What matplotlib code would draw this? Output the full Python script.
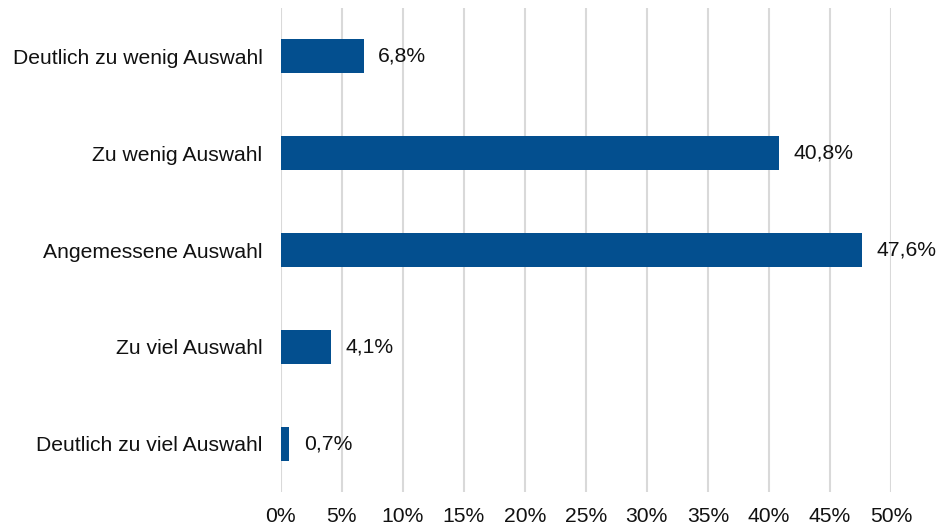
import matplotlib.pyplot as plt
import numpy as np

categories = ["Deutlich zu wenig Auswahl", "Zu wenig Auswahl", "Angemessene Auswahl",
              "Zu viel Auswahl", "Deutlich zu viel Auswahl"]
values = [6.8, 40.8, 47.6, 4.1, 0.7]
labels = ["6,8%", "40,8%", "47,6%", "4,1%", "0,7%"]
xticks = [0, 5, 10, 15, 20, 25, 30, 35, 40, 45, 50]

plt.rcParams['font.family'] = ['Liberation Sans', 'DejaVu Sans']
fs = 15.2

fig = plt.figure(figsize=(9.51, 5.28), dpi=100)
ax = fig.add_axes([280.5 / 951, 1 - 492 / 528, (891 - 280.5) / 951, 484 / 528])

y = np.arange(len(categories))
ax.barh(y, values, height=0.35, color='#034F8F', zorder=3)
for yi, v, lab in zip(y, values, labels):
    ax.annotate(lab, (v, yi), xytext=(10.5, 0), textcoords='offset points',
                va='center', ha='left', fontsize=fs, color='#111111')

ax.set_ylim(4.5, -0.5)
ax.set_yticks(y)
ax.set_yticklabels(categories, fontsize=fs, color='#111111')
ax.set_xticks(xticks)
ax.set_xticklabels([f"{t}%" for t in xticks], fontsize=fs, color='#111111')
ax.tick_params(axis='y', length=0, pad=13)
ax.tick_params(axis='x', length=0, pad=11)
ax.grid(axis='x', color='#d9d9d9', linewidth=1.5, zorder=0)
for s in ax.spines.values():
    s.set_visible(False)
ax.set_xlim(-0.01, 50.01)

fig.savefig('out.png', dpi=100)
